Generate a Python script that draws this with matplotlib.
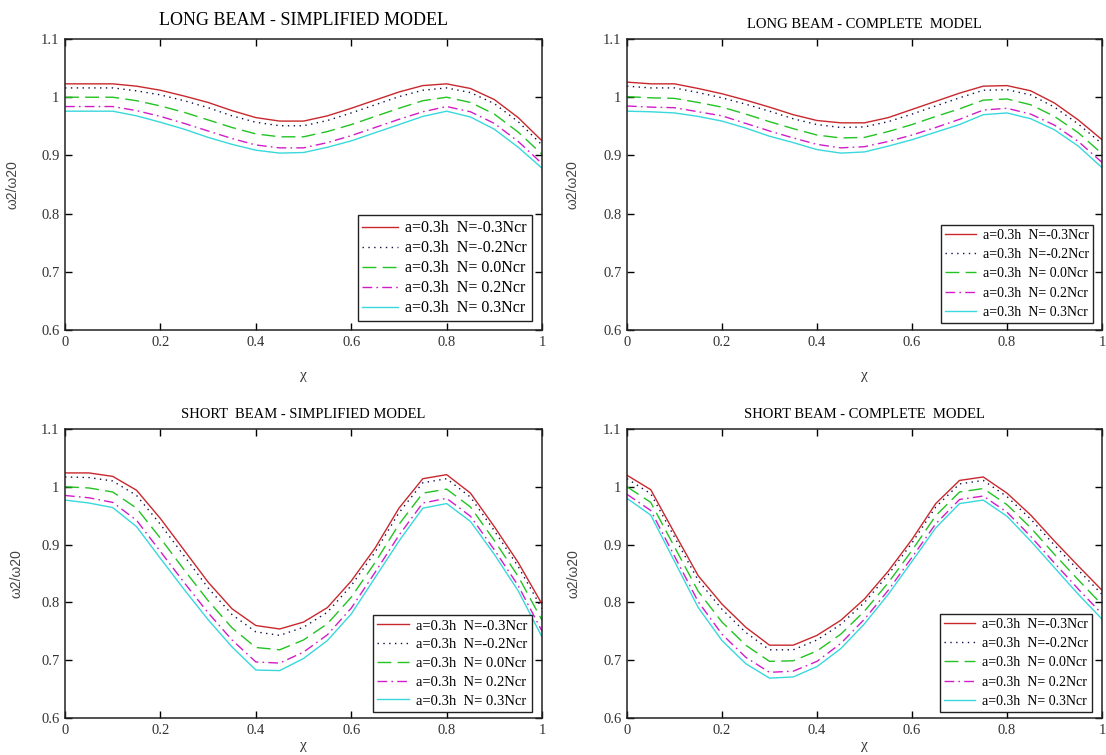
import matplotlib
matplotlib.use("Agg")
import matplotlib.pyplot as plt

# positions along the beam (same grid for all panels)
x = [0.00, 0.05, 0.10, 0.15, 0.20, 0.25, 0.30, 0.35, 0.40, 0.45, 0.50,
     0.55, 0.60, 0.65, 0.70, 0.75, 0.80, 0.85, 0.90, 0.95, 1.00]

labels = ["a=0.3h  N=-0.3Ncr", "a=0.3h  N=-0.2Ncr", "a=0.3h  N= 0.0Ncr",
          "a=0.3h  N= 0.2Ncr", "a=0.3h  N= 0.3Ncr"]

# long beam - simplified model
long_simp_m03 = [1.023, 1.023, 1.023, 1.019, 1.012, 1.002, 0.991, 0.977, 0.965, 0.959, 0.959,
                 0.968, 0.981, 0.995, 1.009, 1.020, 1.023, 1.015, 0.996, 0.965, 0.925]
long_simp_m02 = [1.016, 1.016, 1.016, 1.011, 1.004, 0.994, 0.982, 0.968, 0.957, 0.951, 0.951,
                 0.960, 0.973, 0.987, 1.001, 1.012, 1.016, 1.008, 0.989, 0.958, 0.918]
long_simp_p00 = [1.000, 1.000, 1.000, 0.994, 0.985, 0.974, 0.961, 0.948, 0.937, 0.932, 0.932,
                 0.941, 0.953, 0.967, 0.981, 0.994, 1.000, 0.991, 0.971, 0.940, 0.902]
long_simp_p02 = [0.984, 0.984, 0.984, 0.977, 0.967, 0.955, 0.942, 0.929, 0.918, 0.913, 0.913,
                 0.922, 0.934, 0.948, 0.962, 0.975, 0.984, 0.975, 0.955, 0.924, 0.886]
long_simp_p03 = [0.976, 0.976, 0.976, 0.968, 0.957, 0.945, 0.931, 0.919, 0.909, 0.904, 0.905,
                 0.914, 0.925, 0.939, 0.953, 0.967, 0.976, 0.966, 0.945, 0.914, 0.878]

# long beam - complete model
long_comp_m03 = [1.026, 1.023, 1.023, 1.015, 1.006, 0.995, 0.983, 0.970, 0.960, 0.956, 0.956,
                 0.965, 0.979, 0.993, 1.007, 1.019, 1.020, 1.011, 0.990, 0.961, 0.927]
long_comp_m02 = [1.019, 1.016, 1.016, 1.008, 0.999, 0.988, 0.976, 0.963, 0.953, 0.948, 0.949,
                 0.958, 0.971, 0.985, 0.999, 1.012, 1.013, 1.004, 0.983, 0.954, 0.920]
long_comp_p00 = [1.001, 0.999, 0.998, 0.991, 0.983, 0.971, 0.958, 0.946, 0.935, 0.930, 0.931,
                 0.941, 0.953, 0.967, 0.980, 0.995, 0.997, 0.987, 0.967, 0.939, 0.903]
long_comp_p02 = [0.985, 0.983, 0.982, 0.975, 0.968, 0.955, 0.942, 0.930, 0.919, 0.913, 0.915,
                 0.924, 0.935, 0.948, 0.962, 0.978, 0.981, 0.971, 0.952, 0.924, 0.888]
long_comp_p03 = [0.976, 0.975, 0.973, 0.967, 0.959, 0.947, 0.933, 0.922, 0.910, 0.904, 0.906,
                 0.916, 0.927, 0.940, 0.953, 0.970, 0.973, 0.963, 0.944, 0.916, 0.879]

# short beam - simplified model
short_simp_m03 = [1.024, 1.024, 1.018, 0.994, 0.945, 0.890, 0.835, 0.789, 0.760, 0.754, 0.766,
                  0.791, 0.837, 0.894, 0.963, 1.014, 1.021, 0.989, 0.931, 0.869, 0.797]
short_simp_m02 = [1.017, 1.016, 1.010, 0.985, 0.935, 0.880, 0.825, 0.779, 0.749, 0.743, 0.757,
                  0.783, 0.829, 0.887, 0.955, 1.007, 1.014, 0.982, 0.924, 0.862, 0.789]
short_simp_p00 = [1.000, 0.998, 0.991, 0.963, 0.911, 0.856, 0.803, 0.756, 0.722, 0.718, 0.735,
                  0.763, 0.809, 0.869, 0.935, 0.989, 0.996, 0.965, 0.907, 0.845, 0.769]
short_simp_p02 = [0.985, 0.981, 0.973, 0.942, 0.888, 0.834, 0.782, 0.735, 0.697, 0.695, 0.714,
                  0.744, 0.790, 0.852, 0.916, 0.972, 0.980, 0.949, 0.891, 0.829, 0.750]
short_simp_p03 = [0.977, 0.972, 0.964, 0.931, 0.876, 0.822, 0.770, 0.723, 0.683, 0.682, 0.703,
                  0.734, 0.780, 0.843, 0.906, 0.963, 0.971, 0.940, 0.883, 0.820, 0.740]

# short beam - complete model
short_comp_m03 = [1.020, 0.995, 0.920, 0.846, 0.797, 0.757, 0.726, 0.726, 0.743, 0.769, 0.806,
                  0.854, 0.909, 0.971, 1.011, 1.017, 0.989, 0.951, 0.906, 0.863, 0.821]
short_comp_m02 = [1.014, 0.988, 0.913, 0.838, 0.788, 0.748, 0.718, 0.718, 0.735, 0.762, 0.800,
                  0.848, 0.903, 0.965, 1.005, 1.011, 0.983, 0.944, 0.899, 0.856, 0.814]
short_comp_p00 = [1.000, 0.973, 0.896, 0.819, 0.766, 0.726, 0.698, 0.699, 0.716, 0.745, 0.785,
                  0.834, 0.890, 0.950, 0.991, 0.997, 0.969, 0.929, 0.883, 0.839, 0.796]
short_comp_p02 = [0.987, 0.959, 0.880, 0.801, 0.745, 0.705, 0.679, 0.681, 0.698, 0.729, 0.771,
                  0.821, 0.878, 0.936, 0.978, 0.984, 0.956, 0.914, 0.868, 0.823, 0.780]
short_comp_p03 = [0.980, 0.951, 0.871, 0.791, 0.734, 0.694, 0.669, 0.671, 0.689, 0.720, 0.763,
                  0.814, 0.871, 0.929, 0.971, 0.977, 0.949, 0.906, 0.860, 0.814, 0.771]

colors = ["#c8282d", "#10104a", "#22c322", "#d21cc8", "#38d8dc"]
styles = ["-", (0, (1, 3.2)), (0, (10, 4.5)), (0, (7, 3, 1.2, 3)), "-"]

panels = [
    ("LONG BEAM - SIMPLIFIED MODEL", [long_simp_m03, long_simp_m02, long_simp_p00, long_simp_p02, long_simp_p03]),
    ("LONG BEAM - COMPLETE  MODEL", [long_comp_m03, long_comp_m02, long_comp_p00, long_comp_p02, long_comp_p03]),
    ("SHORT  BEAM - SIMPLIFIED MODEL", [short_simp_m03, short_simp_m02, short_simp_p00, short_simp_p02, short_simp_p03]),
    ("SHORT BEAM - COMPLETE  MODEL", [short_comp_m03, short_comp_m02, short_comp_p00, short_comp_p02, short_comp_p03]),
]

# axes rectangles in figure fractions (left, bottom, width, height)
rects = [(0.0588, 0.5629, 0.4313, 0.3854),
         (0.5669, 0.5629, 0.4295, 0.3854),
         (0.0588, 0.0490, 0.4313, 0.3828),
         (0.5669, 0.0490, 0.4295, 0.3828)]
title_sizes = [13, 10.5, 10.5, 10.5]
title_pads = [10, 8, 8, 8]
legend_sizes = [11.5, 10, 10.5, 10]
legend_spacing = [0.25, 0.45, 0.38, 0.45]
legend_anchor = [(0.979, 0.031), (0.981, 0.024), (0.979, 0.021), (0.979, 0.021)]
ylabel_x = [-0.096, -0.101, -0.088, -0.097]
xlabel_y = [-0.135, -0.135, -0.072, -0.072]

fig = plt.figure(figsize=(11.06, 7.55), dpi=100)
serif = ["Liberation Serif", "DejaVu Serif"]

for i, (title, series) in enumerate(panels):
    ax = fig.add_axes(rects[i])
    for ys, c, ls, lab in zip(series, colors, styles, labels):
        ax.plot(x, ys, color=c, linestyle=ls, linewidth=1.0, label=lab)
    ax.set_xlim(0, 1)
    ax.set_ylim(0.6, 1.1)
    ax.set_xticks([0, 0.2, 0.4, 0.6, 0.8, 1])
    ax.set_xticklabels(["0", "0.2", "0.4", "0.6", "0.8", "1"])
    ax.set_yticks([0.6, 0.7, 0.8, 0.9, 1.0, 1.1])
    ax.set_yticklabels(["0.6", "0.7", "0.8", "0.9", "1", "1.1"])
    ax.tick_params(direction="in", top=True, right=True, length=5, width=1,
                   labelsize=10.5, labelcolor="#333333", pad=4)
    for lab in ax.get_xticklabels() + ax.get_yticklabels():
        lab.set_family(serif)
    for sp in ax.spines.values():
        sp.set_linewidth(1.1)
        sp.set_color("#222222")
    ax.set_title(title, family=serif, fontsize=title_sizes[i], pad=title_pads[i])
    ax.set_ylabel("ω2/ω20", family=["Liberation Sans", "DejaVu Sans"], fontsize=10,
                  color="#444444")
    ax.yaxis.set_label_coords(ylabel_x[i], 0.5)
    ax.set_xlabel("χ", family=serif, fontsize=11, color="#333333")
    ax.xaxis.set_label_coords(0.5, xlabel_y[i])
    leg = ax.legend(loc="lower right", bbox_to_anchor=legend_anchor[i], borderaxespad=0,
                    prop={"family": serif, "size": legend_sizes[i]}, fancybox=False,
                    framealpha=1, edgecolor="#222222", handlelength=2.2,
                    handletextpad=0.5, labelspacing=legend_spacing[i], borderpad=0.3)
    leg.get_frame().set_linewidth(1.0)

fig.savefig("out.png", dpi=100)
